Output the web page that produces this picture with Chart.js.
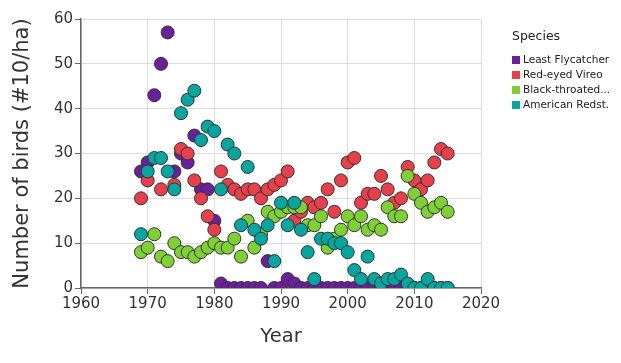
<!DOCTYPE html>
<html>
<head>
<meta charset="utf-8">
<script src="https://cdn.jsdelivr.net/npm/chart.js@4.4.0/dist/chart.umd.min.js"></script>
<style>
  body { margin: 0; background: #fff; font-family: "DejaVu Sans", sans-serif; }
  #wrap { position: relative; width: 621px; height: 363px; }
  #legend { position: absolute; left: 511px; top: 0; color: #222; }
  #legend .title { position: absolute; left: 1px; top: 28px; font-size: 12.5px; line-height: 16px; white-space: nowrap; }
  #legend .item { position: absolute; left: 1px; height: 14px; font-size: 10.5px; line-height: 14px; white-space: nowrap; }
  #legend .box { display: inline-block; width: 8px; height: 8px; margin-right: 3px; vertical-align: -0.5px; }
</style>
</head>
<body>
<div id="wrap">
  <canvas id="birds" width="621" height="363"></canvas>
  <div id="legend"></div>
</div>
<script>
// years of the survey
const years = [1969, 1970, 1971, 1972, 1973, 1974, 1975, 1976, 1977, 1978,
  1979, 1980, 1981, 1982, 1983, 1984, 1985, 1986, 1987, 1988,
  1989, 1990, 1991, 1992, 1993, 1994, 1995, 1996, 1997, 1998,
  1999, 2000, 2001, 2002, 2003, 2004, 2005, 2006, 2007, 2008,
  2009, 2010, 2011, 2012, 2013, 2014, 2015];

// birds per species (#10/ha), one value per year
const leastFlycatcher = [26, 28, 43, 50, 57, 26, 30, 28, 34, 22,
  22, 15, 1, 0, 0, 0, 0, 0, 0, 6,
  0, 0, 2, 1, 0, 0, 0, 0, 0, 0,
  0, 0, 0, 0, 0, 0, 0, 0, 0, 0,
  0, 0, 0, 0, 0, 0, 0];
const redEyedVireo = [20, 24, null, 22, null, 23, 31, 30, 24, 20,
  16, 13, 26, 23, 22, 21, 22, 22, 20, 22,
  23, 24, 26, 15, 17, 19, 18, 19, 22, 17,
  24, 28, 29, 19, 21, 21, 25, 22, 19, 20,
  27, 24, 22, 24, 28, 31, 30];
const blackThroated = [8, 9, 12, 7, 6, 10, 8, 8, 7, 8,
  9, 10, 9, 9, 11, 7, 15, 9, 12, 17,
  16, 17, 18, 18, 18, 14, 14, 16, 9, 11,
  13, 16, 14, 16, 13, 14, 13, 18, 16, 16,
  25, 21, 19, 17, 18, 19, 17];
const americanRedstart = [12, 26, 29, 29, 26, 22, 39, 42, 44, 33,
  36, 35, 22, 32, 30, 14, 27, 13, 11, 14,
  6, 19, 14, 19, 13, 8, 2, 11, 11, 10,
  10, 8, 4, 2, 7, 2, 1, 2, 2, 3,
  1, 0, 0, 2, 0, 0, 0];

const speciesNames = ['Least Flycatcher', 'Red-eyed Vireo', 'Black-throated...', 'American Redst.'];
const speciesColors = ['#6a1f9b', '#e8404b', '#7fd034', '#00a69f'];
const yTicks = [0, 10, 20, 30, 40, 50, 60];
const xTicks = [1960, 1970, 1980, 1990, 2000, 2010, 2020];

function toPoints(values) {
    const pts = [];
    values.forEach(function (v, i) {
        if (v !== null) pts.push({ x: years[i], y: v });
    });
    return pts;
}

const allSeries = [leastFlycatcher, redEyedVireo, blackThroated, americanRedstart];

const datasets = allSeries.map(function (values, i) {
    return {
        label: speciesNames[i],
        data: toPoints(values),
        backgroundColor: speciesColors[i],
        borderColor: '#333333',
        pointBorderWidth: 1,
        pointRadius: 6.5,
        order: 4 - i   // last species drawn on top
    };
});

const tickFont = { family: 'DejaVu Sans', size: 15 };

const ctx = document.getElementById('birds').getContext('2d');
new Chart(ctx, {
    type: 'scatter',
    data: { datasets: datasets },
    options: {
        responsive: false,
        animation: false,
        layout: { padding: { left: 6, top: 19, right: 140, bottom: 10 } },
        plugins: {
            legend: { display: false },
            tooltip: { enabled: false }
        },
        scales: {
            x: {
                type: 'linear',
                min: xTicks[0],
                max: xTicks[xTicks.length - 1],
                afterBuildTicks: function (scale) {
                    scale.ticks = xTicks.map(function (v) { return { value: v }; });
                },
                afterFit: function (scale) { scale.height = 65; },
                ticks: {
                    font: tickFont,
                    color: '#333',
                    padding: 1,
                    maxRotation: 0,
                    callback: function (v) { return String(v); }
                },
                grid: { color: '#dddddd', tickColor: '#666', tickLength: 6 },
                border: { color: '#666', width: 1.5 },
                title: { display: true, text: 'Year', font: { family: 'DejaVu Sans', size: 19.5 }, color: '#333' }
            },
            y: {
                min: yTicks[0],
                max: yTicks[yTicks.length - 1],
                afterBuildTicks: function (scale) {
                    scale.ticks = yTicks.map(function (v) { return { value: v }; });
                },
                afterFit: function (scale) { scale.width = 75; },
                ticks: {
                    font: tickFont,
                    color: '#333',
                    padding: 2,
                    callback: function (v) { return String(v); }
                },
                grid: { color: '#dddddd', tickColor: '#666', tickLength: 6 },
                border: { color: '#666', width: 1.5 },
                title: { display: true, text: 'Number of birds (#10/ha)', font: { family: 'DejaVu Sans', size: 21 }, color: '#333' }
            }
        }
    }
});

// legend on the right
const legend = document.getElementById('legend');
const legendTitle = document.createElement('div');
legendTitle.className = 'title';
legendTitle.textContent = 'Species';
legend.appendChild(legendTitle);
speciesNames.forEach(function (name, i) {
    const item = document.createElement('div');
    item.className = 'item';
    item.style.top = (52 + i * 15) + 'px';
    const box = document.createElement('span');
    box.className = 'box';
    box.style.background = speciesColors[i];
    item.appendChild(box);
    item.appendChild(document.createTextNode(name));
    legend.appendChild(item);
});
</script>
</body>
</html>
